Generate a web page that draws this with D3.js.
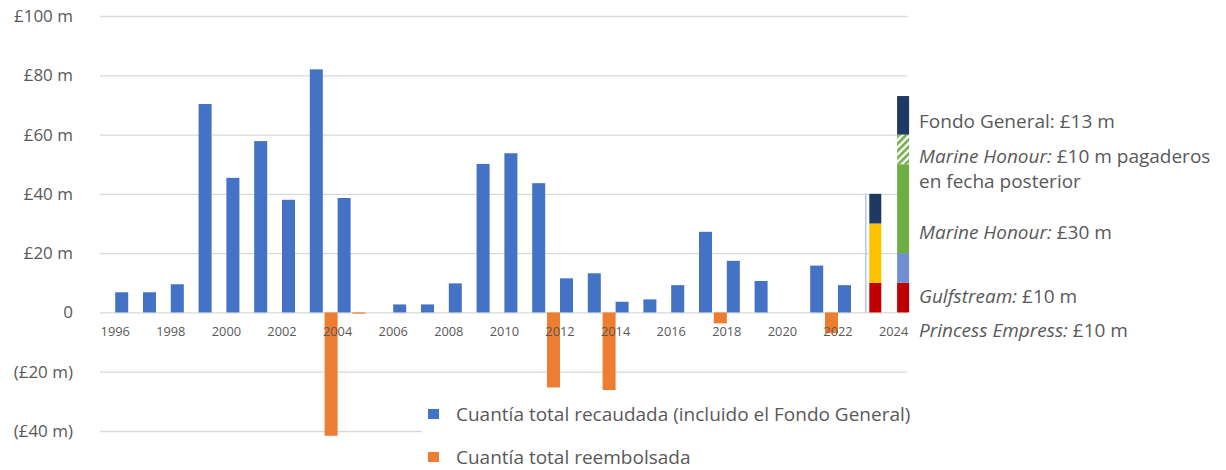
<!DOCTYPE html>
<html>
<head>
<meta charset="utf-8">
<script src="https://cdn.jsdelivr.net/npm/d3@7"></script>
<style>
  body { margin: 0; background: #fff; }
  svg text { font-family: "Open Sans", "Noto Sans", sans-serif; fill: #595959; }
</style>
</head>
<body>
<script>
// years on the category axis
var years = ["1996","1997","1998","1999","2000","2001","2002","2003","2004","2005",
             "2006","2007","2008","2009","2010","2011","2012","2013","2014","2015",
             "2016","2017","2018","2019","2020","2021","2022","2023","2024"];
// £ m raised (incl. General Fund)
var raised = [6.8, 6.8, 9.5, 70.3, 45.4, 57.8, 38, 82, 38.6, 0,
              2.7, 2.7, 9.8, 50.1, 53.7, 43.6, 11.5, 13.2, 3.6, 4.4,
              9.2, 27.2, 17.4, 10.6, 0, 15.8, 9.2, null, null];
// £ m refunded
var refunded = [0, 0, 0, 0, 0, 0, 0, 0, -41.6, -0.4,
                0, 0, 0, 0, 0, 0, -25.3, 0, -26.2, 0,
                0, 0, -3.7, 0, 0, 0, -7, null, null];
// 2023 / 2024 breakdown, bottom to top
var stackYears = ["2023", "2024"];
var segRed = [10, 10];
var segYellow = [20, 0];
var segLightBlue = [0, 10];
var segGreen = [0, 30];
var segHatched = [0, 10];
var segNavy = [10, 13];
var yTicks = [-40, -20, 0, 20, 40, 60, 80, 100];
var legendLabels = ["Cuantía total recaudada (incluido el Fondo General)", "Cuantía total reembolsada"];

var W = 1226, H = 470;
var svg = d3.select("body").append("svg").attr("width", W).attr("height", H);

var defs = svg.append("defs");
var pat = defs.append("pattern")
  .attr("id", "hatch").attr("patternUnits", "userSpaceOnUse")
  .attr("width", 5).attr("height", 5)
  .attr("patternTransform", "rotate(45)");
pat.append("rect").attr("width", 5).attr("height", 5).attr("fill", "#fff");
pat.append("rect").attr("width", 2.6).attr("height", 5).attr("fill", "#70ad47");

var x = d3.scaleBand().domain(years).range([101.3, 907.5]);
var y = d3.scaleLinear().domain([-40, 100]).range([431, 16]);
var barW = 13;

// grid
svg.append("g")
  .attr("transform", "translate(100,0)")
  .call(d3.axisLeft(y).tickValues(yTicks).tickSize(-807.5).tickFormat(""))
  .call(function(g) {
    g.select(".domain").remove();
    g.selectAll("line").attr("stroke", "#d9d9d9").attr("stroke-width", 1.3);
  });

// y labels
svg.append("g")
  .attr("transform", "translate(73,0)")
  .call(d3.axisLeft(y).tickValues(yTicks).tickSize(0).tickPadding(0)
    .tickFormat(function(d) { return d === 0 ? "0" : d < 0 ? "(£" + (-d) + " m)" : "£" + d + " m"; }))
  .call(function(g) {
    g.select(".domain").remove();
    g.selectAll("text").style("font-size", "17px").attr("fill", "#595959");
  });

// raised bars
svg.append("g").selectAll("rect")
  .data(years.map(function(yr, i) { return {yr: yr, v: raised[i]}; }).filter(function(d) { return d.v; }))
  .enter().append("rect")
  .attr("x", function(d) { return x(d.yr) + x.bandwidth() / 2; })
  .attr("width", barW)
  .attr("y", function(d) { return y(d.v); })
  .attr("height", function(d) { return y(0) - y(d.v); })
  .attr("fill", "#4472c4");

// refunded bars
svg.append("g").selectAll("rect")
  .data(years.map(function(yr, i) { return {yr: yr, v: refunded[i]}; }).filter(function(d) { return d.v; }))
  .enter().append("rect")
  .attr("x", function(d) { return x(d.yr) + x.bandwidth() / 2 - barW; })
  .attr("width", barW)
  .attr("y", y(0))
  .attr("height", function(d) { return Math.max(1, y(d.v) - y(0)); })
  .attr("fill", "#ed7d31");

// separator before the 2023/2024 breakdown
svg.append("line")
  .attr("x1", x("2023") + x.bandwidth() / 2).attr("x2", x("2023") + x.bandwidth() / 2)
  .attr("y1", y(40)).attr("y2", y(0))
  .attr("stroke", "#b4c7e7").attr("stroke-width", 1.5);

// stacked breakdown
var stackRows = stackYears.map(function(yr, i) {
  return {yr: yr, red: segRed[i], yellow: segYellow[i], lightblue: segLightBlue[i],
          green: segGreen[i], hatched: segHatched[i], navy: segNavy[i]};
});
var keys = ["red", "yellow", "lightblue", "green", "hatched", "navy"];
var fills = {red: "#c00000", yellow: "#ffc000", lightblue: "#6f8fd0", green: "#70ad47",
             hatched: "url(#hatch)", navy: "#203864"};
var stacked = d3.stack().keys(keys)(stackRows);
svg.append("g").selectAll("g")
  .data(stacked).enter().append("g")
  .attr("fill", function(s) { return fills[s.key]; })
  .selectAll("rect")
  .data(function(s) { return s.filter(function(d) { return d[1] > d[0]; }); })
  .enter().append("rect")
  .attr("x", function(d) { return x(d.data.yr) + x.bandwidth() / 2 + 3.5; })
  .attr("width", 12)
  .attr("y", function(d) { return y(d[1]); })
  .attr("height", function(d) { return y(d[0]) - y(d[1]); });

// x labels (every other year)
svg.append("g")
  .attr("transform", "translate(0," + y(0) + ")")
  .call(d3.axisBottom(x).tickValues(years.filter(function(d, i) { return i % 2 === 0; }))
    .tickSize(0).tickPadding(14.5))
  .call(function(g) {
    g.select(".domain").remove();
    g.selectAll("text").style("font-size", "12.8px").attr("fill", "#595959");
  });

// annotations for the breakdown
var notes = [
  {v: 62.2, parts: [["Fondo General: ", false], ["£13 m", false]]},
  {v: 50.3, parts: [["Marine Honour: ", true], ["£10 m pagaderos", false]]},
  {v: 41.9, parts: [["en fecha posterior", false]]},
  {v: 24.8, parts: [["Marine Honour: ", true], ["£30 m", false]]},
  {v: 3.3, parts: [["Gulfstream: ", true], ["£10 m", false]]},
  {v: -8.2, parts: [["Princess Empress: ", true], ["£10 m", false]]}
];
var nt = svg.append("g").selectAll("text").data(notes).enter().append("text")
  .attr("x", 919).attr("y", function(d) { return y(d.v); })
  .style("font-size", "19px");
nt.selectAll("tspan").data(function(d) { return d.parts; }).enter().append("tspan")
  .style("font-style", function(p) { return p[1] ? "italic" : "normal"; })
  .text(function(p) { return p[0]; });

// legend
var lg = svg.append("g");
lg.append("rect").attr("x", 422).attr("y", 390).attr("width", 510).attr("height", 80).attr("fill", "#fff");
var li = lg.selectAll("g.item").data(legendLabels).enter().append("g")
  .attr("transform", function(d, i) { return "translate(428," + (409 + i * 43) + ")"; });
li.append("rect").attr("width", 11).attr("height", 10)
  .attr("fill", function(d, i) { return i === 0 ? "#4472c4" : "#ed7d31"; });
li.append("text").attr("x", 28).attr("y", 12).style("font-size", "19px")
  .text(function(d) { return d; });
</script>
</body>
</html>
